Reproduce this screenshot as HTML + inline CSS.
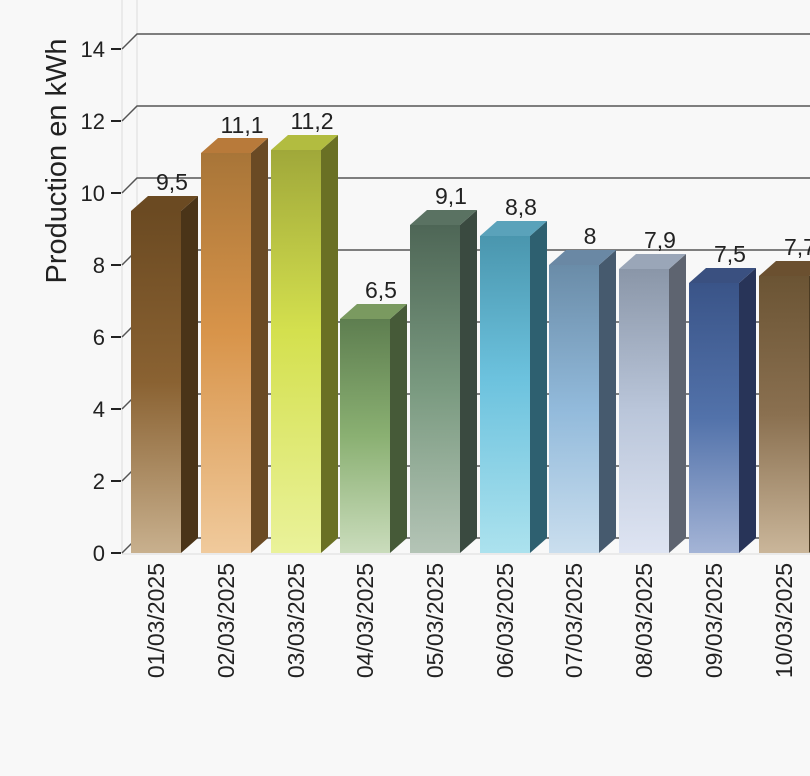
<!DOCTYPE html>
<html><head><meta charset="utf-8"><style>html,body{margin:0;padding:0;background:#f8f8f8}svg{display:block}text{font-family:"Liberation Sans",sans-serif;fill:#222}</style></head><body>
<svg width="810" height="776" viewBox="0 0 810 776" xmlns="http://www.w3.org/2000/svg">
<defs>
<linearGradient id="g1" x1="0" y1="0" x2="0" y2="1"><stop offset="0" stop-color="#6b4a22"/><stop offset="0.5" stop-color="#8a6232"/><stop offset="1" stop-color="#c8b08e"/></linearGradient>
<linearGradient id="g2" x1="0" y1="0" x2="0" y2="1"><stop offset="0" stop-color="#a87538"/><stop offset="0.45" stop-color="#d8944a"/><stop offset="1" stop-color="#f0ca9c"/></linearGradient>
<linearGradient id="g3" x1="0" y1="0" x2="0" y2="1"><stop offset="0" stop-color="#a0a83a"/><stop offset="0.45" stop-color="#d4e04e"/><stop offset="1" stop-color="#eaf29a"/></linearGradient>
<linearGradient id="g4" x1="0" y1="0" x2="0" y2="1"><stop offset="0" stop-color="#5e7e50"/><stop offset="0.5" stop-color="#8ab072"/><stop offset="1" stop-color="#cadcbc"/></linearGradient>
<linearGradient id="g5" x1="0" y1="0" x2="0" y2="1"><stop offset="0" stop-color="#4e6656"/><stop offset="0.5" stop-color="#7a9a80"/><stop offset="1" stop-color="#b4c4b6"/></linearGradient>
<linearGradient id="g6" x1="0" y1="0" x2="0" y2="1"><stop offset="0" stop-color="#4a96ae"/><stop offset="0.45" stop-color="#6cc2de"/><stop offset="1" stop-color="#ace2ee"/></linearGradient>
<linearGradient id="g7" x1="0" y1="0" x2="0" y2="1"><stop offset="0" stop-color="#6a8ca8"/><stop offset="0.5" stop-color="#92badb"/><stop offset="1" stop-color="#cadeee"/></linearGradient>
<linearGradient id="g8" x1="0" y1="0" x2="0" y2="1"><stop offset="0" stop-color="#8a96a8"/><stop offset="0.5" stop-color="#bac6da"/><stop offset="1" stop-color="#dee4f2"/></linearGradient>
<linearGradient id="g9" x1="0" y1="0" x2="0" y2="1"><stop offset="0" stop-color="#3a5488"/><stop offset="0.5" stop-color="#5272aa"/><stop offset="1" stop-color="#a4b4d6"/></linearGradient>
<linearGradient id="g10" x1="0" y1="0" x2="0" y2="1"><stop offset="0" stop-color="#6b5434"/><stop offset="0.5" stop-color="#8a7050"/><stop offset="1" stop-color="#cab69a"/></linearGradient>
</defs>
<line x1="122" y1="0" x2="122" y2="553" stroke="#dcdcdc" stroke-width="1"/>
<line x1="137" y1="0" x2="137" y2="538" stroke="#dcdcdc" stroke-width="1"/>
<line x1="122" y1="554" x2="810" y2="554" stroke="#dcdcdc" stroke-width="1"/>
<g stroke="#555" stroke-width="1.5" fill="none">
<polyline points="122,49 137,34 810,34"/>
<polyline points="122,121 137,106 810,106"/>
<polyline points="122,193 137,178 810,178"/>
<polyline points="122,265 137,250 810,250"/>
<polyline points="122,337 137,322 810,322"/>
<polyline points="122,409 137,394 810,394"/>
<polyline points="122,481 137,466 810,466"/>
<polyline points="122,553 137,538 810,538"/>
</g>
<g stroke="#222" stroke-width="2">
<line x1="111" y1="49" x2="121" y2="49"/><line x1="111" y1="121" x2="121" y2="121"/><line x1="111" y1="193" x2="121" y2="193"/><line x1="111" y1="265" x2="121" y2="265"/><line x1="111" y1="337" x2="121" y2="337"/><line x1="111" y1="409" x2="121" y2="409"/><line x1="111" y1="481" x2="121" y2="481"/><line x1="111" y1="553" x2="121" y2="553"/>
</g>
<g font-size="22" text-anchor="end">
<text x="105" y="57">14</text><text x="105" y="129">12</text><text x="105" y="201">10</text><text x="105" y="273">8</text><text x="105" y="345">6</text><text x="105" y="417">4</text><text x="105" y="489">2</text><text x="105" y="561">0</text>
</g>
<text transform="translate(66,161) rotate(-90)" font-size="29" text-anchor="middle">Production en kWh</text>
<g>
<rect x="131" y="211" width="50" height="342" fill="url(#g1)"/><polygon points="181,211 198,196 198,538 181,553" fill="#4a3418"/><polygon points="131,211 148,196 198,196 181,211" fill="#6b4a22"/>
<rect x="201" y="153" width="50" height="400" fill="url(#g2)"/><polygon points="251,153 268,138 268,538 251,553" fill="#6a4a24"/><polygon points="201,153 218,138 268,138 251,153" fill="#b87a3a"/>
<rect x="271" y="150" width="50" height="403" fill="url(#g3)"/><polygon points="321,150 338,135 338,538 321,553" fill="#6a7024"/><polygon points="271,150 288,135 338,135 321,150" fill="#b2bc40"/>
<rect x="340" y="319" width="50" height="234" fill="url(#g4)"/><polygon points="390,319 407,304 407,538 390,553" fill="#465a38"/><polygon points="340,319 357,304 407,304 390,319" fill="#7a9a60"/>
<rect x="410" y="225" width="50" height="328" fill="url(#g5)"/><polygon points="460,225 477,210 477,538 460,553" fill="#3a4a40"/><polygon points="410,225 427,210 477,210 460,225" fill="#5a7262"/>
<rect x="480" y="236" width="50" height="317" fill="url(#g6)"/><polygon points="530,236 547,221 547,538 530,553" fill="#2e6070"/><polygon points="480,236 497,221 547,221 530,236" fill="#5aa2ba"/>
<rect x="549" y="265" width="50" height="288" fill="url(#g7)"/><polygon points="599,265 616,250 616,538 599,553" fill="#465a6e"/><polygon points="549,265 566,250 616,250 599,265" fill="#6a88a4"/>
<rect x="619" y="269" width="50" height="284" fill="url(#g8)"/><polygon points="669,269 686,254 686,538 669,553" fill="#5e6470"/><polygon points="619,269 636,254 686,254 669,269" fill="#9aa6b8"/>
<rect x="689" y="283" width="50" height="270" fill="url(#g9)"/><polygon points="739,283 756,268 756,538 739,553" fill="#283458"/><polygon points="689,283 706,268 756,268 739,283" fill="#3a5080"/>
<rect x="759" y="276" width="50" height="277" fill="url(#g10)"/><polygon points="809,276 826,261 826,538 809,553" fill="#4a3a22"/><polygon points="759,276 776,261 826,261 809,276" fill="#6b5030"/>
</g>
<g font-size="23" text-anchor="middle">
<text x="172" y="190">9,5</text><text x="242" y="133">11,1</text><text x="312" y="129">11,2</text><text x="381" y="298">6,5</text><text x="451" y="204">9,1</text><text x="521" y="215">8,8</text><text x="590" y="244">8</text><text x="660" y="248">7,9</text><text x="730" y="262">7,5</text><text x="800" y="255">7,7</text>
</g>
<g font-size="23" text-anchor="end">
<text transform="translate(164,563) rotate(-90)">01/03/2025</text>
<text transform="translate(234,563) rotate(-90)">02/03/2025</text>
<text transform="translate(304,563) rotate(-90)">03/03/2025</text>
<text transform="translate(373,563) rotate(-90)">04/03/2025</text>
<text transform="translate(443,563) rotate(-90)">05/03/2025</text>
<text transform="translate(513,563) rotate(-90)">06/03/2025</text>
<text transform="translate(582,563) rotate(-90)">07/03/2025</text>
<text transform="translate(652,563) rotate(-90)">08/03/2025</text>
<text transform="translate(722,563) rotate(-90)">09/03/2025</text>
<text transform="translate(792,563) rotate(-90)">10/03/2025</text>
</g>
</svg>
</body></html>
